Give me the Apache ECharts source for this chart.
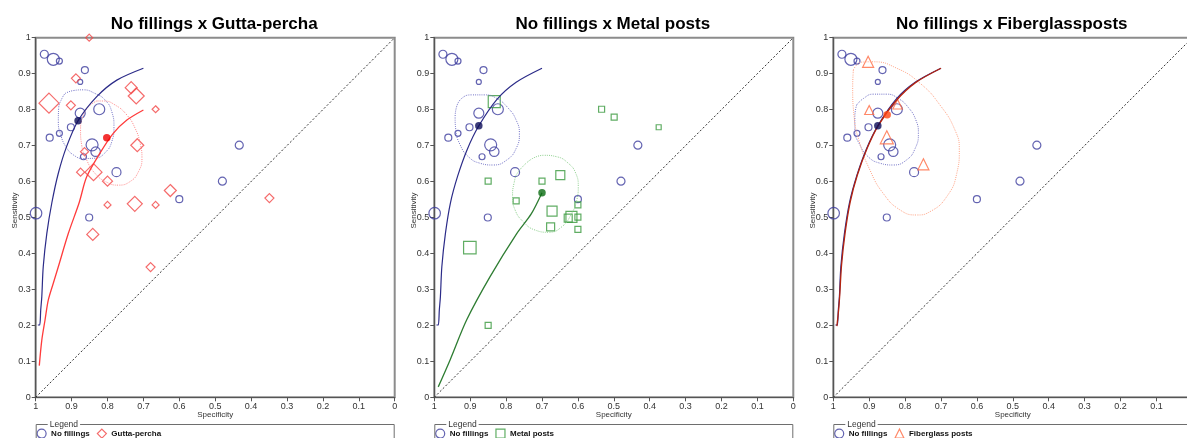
<!DOCTYPE html>
<html>
<head>
<meta charset="utf-8">
<script src="https://cdn.jsdelivr.net/npm/echarts@6/dist/echarts.min.js"></script>
<style>
  html, body { margin: 0; padding: 0; background: #fff; }
  #chart { width: 1187px; height: 438px; }
</style>
</head>
<body>
<div id="chart"></div>
<script>
// ---- axis ticks -------------------------------------------------------
const tickLabels = ['0', '0.1', '0.2', '0.3', '0.4', '0.5', '0.6', '0.7', '0.8', '0.9', '1'];

// ---- panel texts ------------------------------------------------------
const panelTitles = ['No fillings x Gutta-percha', 'No fillings x Metal posts', 'No fillings x Fiberglassposts'];
const referenceName = 'No fillings';
const comparatorNames = ['Gutta-percha', 'Metal posts', 'Fiberglass posts'];

// ---- study estimates: [specificity, sensitivity, study weight] --------
const noFillings = [
  [0.976, 0.954, 8], [0.951, 0.940, 12], [0.934, 0.935, 6], [0.863, 0.910, 7],
  [0.876, 0.877, 5], [0.876, 0.790, 10], [0.823, 0.801, 11], [0.902, 0.751, 7],
  [0.934, 0.734, 6], [0.961, 0.722, 7], [0.843, 0.702, 12], [0.833, 0.683, 9.5],
  [0.867, 0.669, 6], [0.775, 0.626, 9], [0.433, 0.701, 8], [0.480, 0.601, 8],
  [0.600, 0.551, 7], [0.999, 0.512, 11.5], [0.851, 0.500, 7]
];
const guttaPercha = [
  [0.851, 1.000, 7], [0.888, 0.887, 9], [0.963, 0.818, 20], [0.902, 0.812, 9],
  [0.734, 0.861, 12], [0.720, 0.838, 16], [0.666, 0.801, 7], [0.864, 0.683, 8],
  [0.717, 0.701, 13], [0.875, 0.626, 8], [0.839, 0.626, 17], [0.800, 0.601, 10],
  [0.625, 0.575, 12], [0.800, 0.535, 7], [0.724, 0.538, 15], [0.666, 0.535, 7],
  [0.349, 0.554, 9], [0.841, 0.453, 12], [0.680, 0.362, 9]
];
const metalPosts = [
  [0.833, 0.822, 12], [0.534, 0.801, 6], [0.499, 0.779, 6], [0.375, 0.751, 5],
  [0.850, 0.601, 6], [0.700, 0.601, 6], [0.649, 0.618, 9], [0.772, 0.546, 6],
  [0.600, 0.535, 6], [0.672, 0.518, 10], [0.676, 0.474, 8], [0.627, 0.498, 8],
  [0.618, 0.502, 11], [0.600, 0.501, 6], [0.600, 0.467, 6], [0.901, 0.416, 12.5],
  [0.850, 0.200, 6]
];
const fiberglassPosts = [
  [0.903, 0.933, 11], [0.900, 0.799, 9], [0.821, 0.815, 9.5], [0.851, 0.723, 13],
  [0.749, 0.648, 11]
];

// ---- pooled summary points: [specificity, sensitivity] ----------------
const summaryNoFillings = [[0.882, 0.769], [0.876, 0.755], [0.876, 0.755]];
const summaryComparator = [[0.802, 0.722], [0.700, 0.569], [0.850, 0.786]];

// ---- SROC curves -------------------------------------------------------
const srocNoFillingsA = [
  [0.994, 0.201], [0.989, 0.201], [0.986, 0.243], [0.983, 0.280], [0.979, 0.363],
  [0.969, 0.456], [0.955, 0.541], [0.937, 0.623], [0.914, 0.697], [0.882, 0.769],
  [0.830, 0.836], [0.774, 0.882], [0.700, 0.915]
];
const srocNoFillingsB = [
  [0.994, 0.201], [0.989, 0.201], [0.986, 0.243], [0.983, 0.280], [0.979, 0.363],
  [0.969, 0.456], [0.955, 0.541], [0.935, 0.615], [0.908, 0.690], [0.876, 0.755],
  [0.826, 0.828], [0.772, 0.876], [0.700, 0.915]
];
const srocGuttaPercha = [
  [0.990, 0.088], [0.983, 0.159], [0.974, 0.215], [0.965, 0.270], [0.951, 0.317],
  [0.937, 0.363], [0.909, 0.456], [0.879, 0.541], [0.858, 0.613], [0.821, 0.679],
  [0.784, 0.734], [0.746, 0.771], [0.700, 0.799]
];
const srocMetalPosts = [
  [0.989, 0.029], [0.956, 0.104], [0.910, 0.215], [0.845, 0.335], [0.770, 0.456],
  [0.730, 0.510], [0.700, 0.569]
];
const srocFiberglassPosts = [
  [0.990, 0.198], [0.985, 0.245], [0.982, 0.285], [0.977, 0.368], [0.967, 0.458],
  [0.953, 0.543], [0.933, 0.618], [0.906, 0.692], [0.874, 0.757], [0.824, 0.826],
  [0.771, 0.875], [0.700, 0.915]
];

// ---- 95% confidence regions --------------------------------------------
const regionNoFillingsA = [
  [0.918, 0.845], [0.895, 0.853], [0.867, 0.855], [0.835, 0.845], [0.807, 0.827],
  [0.788, 0.794], [0.782, 0.752], [0.788, 0.711], [0.807, 0.680], [0.835, 0.665],
  [0.867, 0.664], [0.895, 0.674], [0.916, 0.697], [0.930, 0.729], [0.937, 0.766],
  [0.936, 0.804], [0.927, 0.831], [0.918, 0.845]
];
const regionGuttaPercha = [
  [0.830, 0.824], [0.853, 0.808], [0.869, 0.780], [0.875, 0.743], [0.872, 0.702],
  [0.858, 0.660], [0.835, 0.623], [0.802, 0.598], [0.770, 0.590], [0.737, 0.600],
  [0.714, 0.627], [0.704, 0.665], [0.709, 0.706], [0.723, 0.748], [0.746, 0.785],
  [0.779, 0.813], [0.811, 0.824], [0.830, 0.824]
];
const regionNoFillingsB = [
  [0.938, 0.808], [0.924, 0.831], [0.896, 0.841], [0.859, 0.841], [0.826, 0.831],
  [0.794, 0.804], [0.772, 0.771], [0.763, 0.734], [0.772, 0.692], [0.798, 0.660],
  [0.836, 0.646], [0.873, 0.651], [0.905, 0.669], [0.928, 0.702], [0.940, 0.743],
  [0.942, 0.780], [0.938, 0.808]
];
const regionMetalPosts = [
  [0.733, 0.660], [0.696, 0.673], [0.659, 0.669], [0.627, 0.651], [0.606, 0.623],
  [0.599, 0.586], [0.603, 0.549], [0.617, 0.512], [0.645, 0.474], [0.682, 0.459],
  [0.719, 0.465], [0.752, 0.488], [0.775, 0.521], [0.782, 0.558], [0.778, 0.595],
  [0.766, 0.627], [0.733, 0.660]
];
const regionNoFillingsC = [
  [0.935, 0.813], [0.916, 0.831], [0.889, 0.843], [0.851, 0.843], [0.819, 0.831],
  [0.791, 0.806], [0.770, 0.771], [0.763, 0.734], [0.772, 0.692], [0.796, 0.660],
  [0.833, 0.646], [0.870, 0.651], [0.903, 0.669], [0.926, 0.702], [0.940, 0.743],
  [0.940, 0.780], [0.935, 0.813]
];
const regionFiberglassPosts = [
  [0.944, 0.911], [0.921, 0.932], [0.889, 0.933], [0.823, 0.915], [0.758, 0.873],
  [0.703, 0.813], [0.661, 0.743], [0.649, 0.688], [0.656, 0.623], [0.684, 0.558],
  [0.731, 0.516], [0.768, 0.507], [0.814, 0.521], [0.861, 0.567], [0.898, 0.632],
  [0.926, 0.706], [0.942, 0.780], [0.946, 0.864], [0.944, 0.911]
];

// chance line
const chanceLine = [[1, 0], [0, 1]];

// ---- layout & styling ---------------------------------------------------
const FONT = '"Liberation Sans", Arial, sans-serif';
const gridLefts = [35.7, 434.3, 833.3];
const GRID_TOP = 37.7, GRID_W = 359, GRID_H = 359.6;

const navy = { mark: '#3c3c9e', dot: '#0b0b58', curve: '#2b2b88', region: '#7474c8' };
const panelStyle = [
  { mark: '#f24646', dot: '#f00000', curve: '#ff3b3b', region: '#ff8a8a', symbol: 'diamond' },
  { mark: '#38983c', dot: '#0a6b12', curve: '#2e7d32', region: '#8ccf8c', symbol: 'rect' },
  { mark: '#ff6a42', dot: '#ff4412', curve: '#b4230f', region: '#ffa384', symbol: 'triangle' }
];
const comparatorData = [guttaPercha, metalPosts, fiberglassPosts];
const comparatorCurves = [srocGuttaPercha, srocMetalPosts, srocFiberglassPosts];
const comparatorRegions = [regionGuttaPercha, regionMetalPosts, regionFiberglassPosts];
const referenceCurves = [srocNoFillingsA, srocNoFillingsB, srocNoFillingsB];
const referenceRegions = [regionNoFillingsA, regionNoFillingsB, regionNoFillingsC];

const tickFormatter = v => tickLabels[Math.round(v * 10)];

const grids = [], xAxes = [], yAxes = [], titles = [], legends = [], series = [], graphics = [];

gridLefts.forEach((left, i) => {
  grids.push({
    left: left, top: GRID_TOP, width: GRID_W, height: GRID_H,
    outerBoundsMode: 'none',
    show: true, borderColor: '#8c8c8c', borderWidth: 2, backgroundColor: '#fff'
  });
  xAxes.push({
    gridIndex: i, type: 'value', min: 0, max: 1, interval: 0.1, inverse: true,
    name: 'Specificity', nameLocation: 'middle', nameGap: 13, nameMoveOverlap: false,
    nameTextStyle: { fontSize: 8, color: '#333', fontFamily: FONT },
    axisLine: { show: true, onZero: false, lineStyle: { color: '#555', width: 1.2 } },
    axisTick: { show: true, length: 4, lineStyle: { color: '#555' } },
    axisLabel: { fontSize: 9, color: '#333', margin: 5, fontFamily: FONT, formatter: tickFormatter },
    splitLine: { show: false }
  });
  yAxes.push({
    gridIndex: i, type: 'value', min: 0, max: 1, interval: 0.1,
    name: 'Sensitivity', nameLocation: 'middle', nameGap: 17, nameMoveOverlap: false,
    nameTextStyle: { fontSize: 8, color: '#333', fontFamily: FONT, padding: [0, 0, 0, 14] },
    axisLine: { show: true, onZero: false, lineStyle: { color: '#555', width: 1.2 } },
    axisTick: { show: true, length: 4, lineStyle: { color: '#555' } },
    axisLabel: { fontSize: 9, color: '#333', margin: 5, fontFamily: FONT, formatter: tickFormatter },
    splitLine: { show: false }
  });
  titles.push({
    text: panelTitles[i], left: left + GRID_W / 2 - 1, top: 16, padding: 0, textAlign: 'center',
    textStyle: { fontSize: 17, fontWeight: 'bold', color: '#000', fontFamily: FONT }
  });

  const ps = panelStyle[i];
  const name = comparatorNames[i];

  legends.push({
    left: left + 0.8, top: 428.5, padding: 0, itemWidth: 9, itemHeight: 9, itemGap: 7,
    selectedMode: false,
    textStyle: { fontSize: 8, fontWeight: 'bold', color: '#111', fontFamily: FONT },
    data: [
      { name: referenceName, icon: 'circle',
        itemStyle: { color: '#fff', borderColor: navy.mark, borderWidth: 1.2 } },
      { name: name, icon: ps.symbol,
        itemStyle: { color: '#fff', borderColor: ps.mark, borderWidth: 1.2 } }
    ]
  });

  // legend frame with its caption
  graphics.push({
    type: 'rect', silent: true, z: 10,
    shape: { x: left + 0.5, y: 424.5, width: GRID_W - 1, height: 40 },
    style: { fill: 'none', stroke: '#6e6e6e', lineWidth: 1 }
  });
  graphics.push({
    type: 'text', silent: true, z: 11, x: left + 12, y: 424.5,
    style: {
      text: 'Legend', fill: '#333', font: '8.5px ' + FONT, verticalAlign: 'middle',
      backgroundColor: '#fff', padding: [0, 2]
    }
  });

  const axisRef = { xAxisIndex: i, yAxisIndex: i };

  series.push(Object.assign({
    name: 'chance ' + i, type: 'line', data: chanceLine, symbol: 'none', silent: true,
    lineStyle: { color: '#333', width: 1, type: [2, 2] }
  }, axisRef));

  // confidence regions
  series.push(Object.assign({
    name: 'region ' + referenceName + ' ' + i, type: 'line', data: referenceRegions[i],
    symbol: 'none', smooth: 0.5, silent: true,
    lineStyle: { color: navy.region, width: 1, type: [1, 1.2] }
  }, axisRef));
  series.push(Object.assign({
    name: 'region ' + name, type: 'line', data: comparatorRegions[i],
    symbol: 'none', smooth: 0.5, silent: true,
    lineStyle: { color: ps.region, width: 1, type: [1, 1.2] }
  }, axisRef));

  // SROC curves (comparator above the reference curve in the last panel)
  const refCurve = Object.assign({
    name: 'sroc ' + referenceName + ' ' + i, type: 'line', data: referenceCurves[i],
    symbol: 'none', smooth: 0.3, silent: true,
    lineStyle: { color: navy.curve, width: 1.2 }
  }, axisRef);
  const cmpCurve = Object.assign({
    name: 'sroc ' + name, type: 'line', data: comparatorCurves[i],
    symbol: 'none', smooth: 0.3, silent: true,
    lineStyle: { color: ps.curve, width: 1.3 }
  }, axisRef);
  if (i === 2) { series.push(refCurve, cmpCurve); } else { series.push(cmpCurve, refCurve); }

  // individual studies
  series.push(Object.assign({
    name: referenceName, type: 'scatter', data: noFillings, symbol: 'circle',
    symbolSize: d => d[2], silent: true,
    itemStyle: { color: 'rgba(255,255,255,0)', borderColor: navy.mark, borderWidth: 1.2 }
  }, axisRef));
  series.push(Object.assign({
    name: name, type: 'scatter', data: comparatorData[i], symbol: ps.symbol,
    symbolSize: d => d[2], silent: true,
    itemStyle: { color: 'rgba(255,255,255,0)', borderColor: ps.mark, borderWidth: 1.2 }
  }, axisRef));

  // pooled estimates
  series.push(Object.assign({
    name: 'summary ' + referenceName + ' ' + i, type: 'scatter', data: [summaryNoFillings[i]],
    symbol: 'circle', symbolSize: 7.5, silent: true, z: 5,
    itemStyle: { color: navy.dot }
  }, axisRef));
  series.push(Object.assign({
    name: 'summary ' + name, type: 'scatter', data: [summaryComparator[i]],
    symbol: 'circle', symbolSize: 7.5, silent: true, z: 5,
    itemStyle: { color: ps.dot }
  }, axisRef));
});

const chart = echarts.init(document.getElementById('chart'), null, { renderer: 'canvas' });
chart.setOption({
  animation: false,
  backgroundColor: '#fff',
  title: titles,
  legend: legends,
  grid: grids,
  xAxis: xAxes,
  yAxis: yAxes,
  series: series,
  graphic: graphics
});
</script>
</body>
</html>
